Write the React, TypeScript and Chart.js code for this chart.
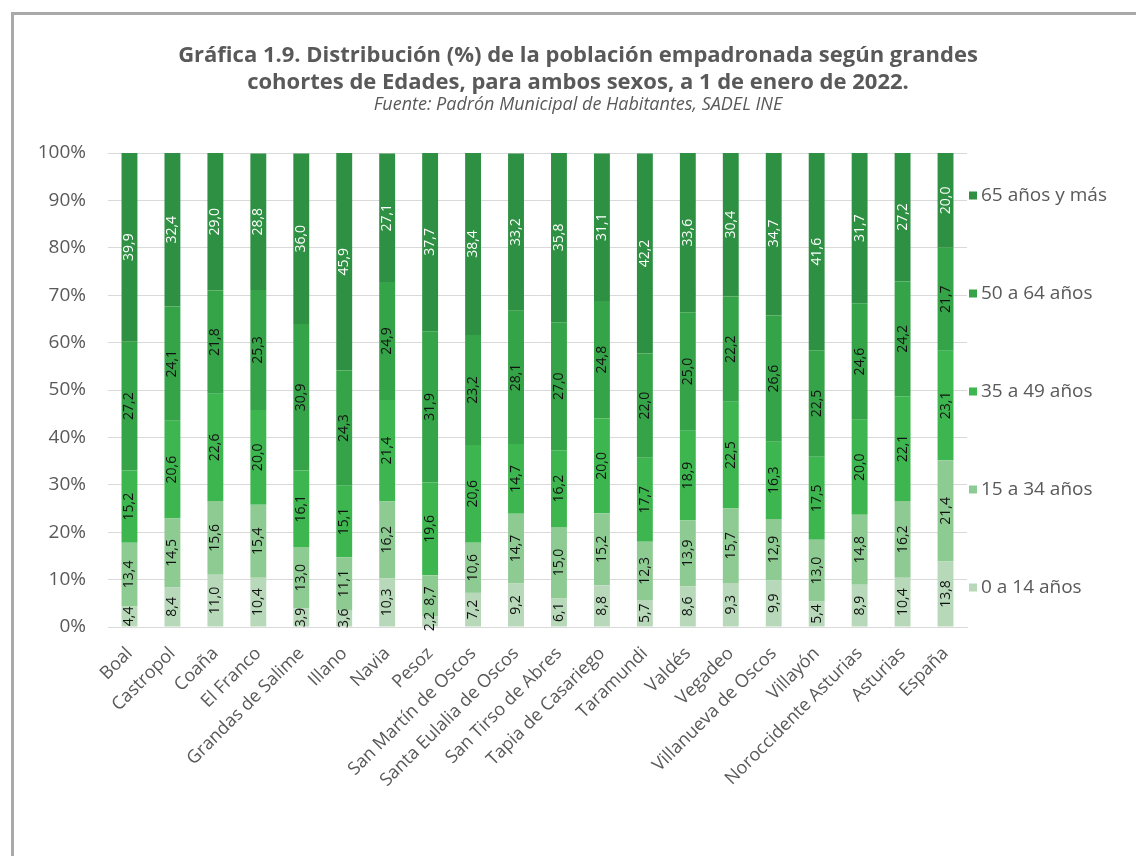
import React, { useEffect, useRef } from "react";
import { Chart, registerables } from "chart.js";

Chart.register(...registerables);

const categories = [
  "Boal", "Castropol", "Coaña", "El Franco", "Grandas de Salime", "Illano", "Navia", "Pesoz",
  "San Martín de Oscos", "Santa Eulalia de Oscos", "San Tirso de Abres", "Tapia de Casariego",
  "Taramundi", "Valdés", "Vegadeo", "Villanueva de Oscos", "Villayón", "Noroccidente Asturias",
  "Asturias", "España",
];

const age0to14 = [4.4, 8.4, 11.0, 10.4, 3.9, 3.6, 10.3, 2.2, 7.2, 9.2, 6.1, 8.8, 5.7, 8.6, 9.3, 9.9, 5.4, 8.9, 10.4, 13.8];
const age15to34 = [13.4, 14.5, 15.6, 15.4, 13.0, 11.1, 16.2, 8.7, 10.6, 14.7, 15.0, 15.2, 12.3, 13.9, 15.7, 12.9, 13.0, 14.8, 16.2, 21.4];
const age35to49 = [15.2, 20.6, 22.6, 20.0, 16.1, 15.1, 21.4, 19.6, 20.6, 14.7, 16.2, 20.0, 17.7, 18.9, 22.5, 16.3, 17.5, 20.0, 22.1, 23.1];
const age50to64 = [27.2, 24.1, 21.8, 25.3, 30.9, 24.3, 24.9, 31.9, 23.2, 28.1, 27.0, 24.8, 22.0, 25.0, 22.2, 26.6, 22.5, 24.6, 24.2, 21.7];
const age65plus = [39.9, 32.4, 29.0, 28.8, 36.0, 45.9, 27.1, 37.7, 38.4, 33.2, 35.8, 31.1, 42.2, 33.6, 30.4, 34.7, 41.6, 31.7, 27.2, 20.0];

const seriesNames = ["0 a 14 años", "15 a 34 años", "35 a 49 años", "50 a 64 años", "65 años y más"];
const seriesValues = [age0to14, age15to34, age35to49, age50to64, age65plus];
const seriesColors = ["#b7d8b9", "#8ecb93", "#3db64f", "#35a347", "#2e9042"];
const labelColors = ["#111111", "#111111", "#111111", "#111111", "#ffffff"];

const titleLines = [
  "Gráfica 1.9. Distribución (%) de la población empadronada según grandes",
  "cohortes de Edades, para ambos sexos, a 1 de enero de 2022.",
];
const subtitleText = "Fuente: Padrón Municipal de Habitantes, SADEL INE";

const FONT = '"Open Sans", sans-serif';
const TEXT = "#595959";

const dataLabelPlugin = {
  id: "stackLabels",
  afterDatasetsDraw(chart: any) {
    const ctx = chart.ctx;
    chart.data.datasets.forEach((ds: any, di: number) => {
      const meta = chart.getDatasetMeta(di);
      meta.data.forEach((bar: any, i: number) => {
        const v = ds.data[i];
        const p = bar.getProps(["x", "y", "base"], true);
        const cy = (p.y + p.base) / 2;
        ctx.save();
        ctx.translate(p.x, cy);
        ctx.rotate(-Math.PI / 2);
        ctx.textAlign = "center";
        ctx.textBaseline = "middle";
        ctx.fillStyle = labelColors[di];
        ctx.font = `14px ${FONT}`;
        ctx.fillText(v.toFixed(1).replace(".", ","), 0, 0);
        ctx.restore();
      });
    });
  },
};

const sideLegendPlugin = {
  id: "sideLegend",
  afterDraw(chart: any) {
    const { ctx, chartArea } = chart;
    const n = seriesNames.length;
    const gap = 98;
    const cy = (chartArea.top + chartArea.bottom) / 2 + 1.5;
    ctx.save();
    ctx.font = `19px ${FONT}`;
    ctx.textBaseline = "middle";
    ctx.textAlign = "left";
    for (let i = 0; i < n; i++) {
      const idx = n - 1 - i;
      const y = cy + (i - (n - 1) / 2) * gap;
      ctx.fillStyle = seriesColors[idx];
      ctx.fillRect(chartArea.right + 2, y - 4, 8, 8);
      ctx.fillStyle = TEXT;
      ctx.fillText(seriesNames[idx], chartArea.right + 14, y);
    }
    ctx.restore();
  },
};

export default function App() {
  const ref = useRef<HTMLCanvasElement | null>(null);

  useEffect(() => {
    if (!ref.current) return;
    Chart.defaults.font.family = FONT;
    const chart = new Chart(ref.current, {
      type: "bar",
      data: {
        labels: categories,
        datasets: seriesValues.map((vals, i) => ({
          label: seriesNames[i],
          data: vals,
          backgroundColor: seriesColors[i],
          borderWidth: 0,
          barPercentage: 0.37,
          categoryPercentage: 1.0,
          yAxisID: "y",
        })),
      },
      options: {
        responsive: false,
        animation: false,
        layout: { padding: { top: 40, left: 20, right: 0, bottom: 0 } },
        plugins: {
          legend: { display: false },
          tooltip: { enabled: false },
          title: {
            display: true,
            text: titleLines,
            color: TEXT,
            font: { family: FONT, size: 22, weight: "bold", lineHeight: 27 / 22 },
            padding: { top: 2, bottom: 0 },
          },
          subtitle: {
            display: true,
            text: subtitleText,
            color: TEXT,
            font: { family: FONT, size: 18, style: "italic", lineHeight: 1.0 },
            padding: { top: 0, bottom: 39 },
          },
        },
        scales: {
          x: {
            stacked: true,
            grid: { display: false },
            border: { display: true, color: "#d9d9d9", width: 1 },
            ticks: {
              color: TEXT,
              font: { family: FONT, size: 18 },
              minRotation: 45,
              maxRotation: 45,
              autoSkip: false,
              padding: 8,
            },
            afterFit: (s: any) => {
              s.height = 229;
            },
          },
          y: {
            stacked: true,
            min: 0,
            max: 100,
            grid: { color: "#d9d9d9", drawTicks: false },
            border: { display: false },
            ticks: {
              stepSize: 10,
              color: TEXT,
              font: { family: FONT, size: 19 },
              padding: 22,
              callback: (v: any) => `${v}%`,
            },
            afterFit: (s: any) => {
              s.width = 88;
            },
          },
          y2: {
            position: "right",
            display: true,
            min: 0,
            max: 100,
            grid: { display: false },
            border: { display: false },
            ticks: { display: false },
            afterFit: (s: any) => {
              s.width = 169;
            },
          },
        },
      },
      plugins: [dataLabelPlugin, sideLegendPlugin],
    } as any);
    return () => chart.destroy();
  }, []);

  return (
    <div style={{ position: "fixed", left: 0, top: 0, width: 1136, height: 856, background: "#ffffff", overflow: "hidden" }}>
      <div
        style={{
          position: "absolute",
          left: 11,
          top: 12,
          width: 1140,
          height: 860,
          borderLeft: "3px solid #a9a9a9",
          borderTop: "3px solid #a9a9a9",
        }}
      />
      <canvas
        ref={ref}
        width={1136}
        height={856}
        style={{ position: "absolute", left: 0, top: 0, width: 1136, height: 856 }}
      />
    </div>
  );
}
